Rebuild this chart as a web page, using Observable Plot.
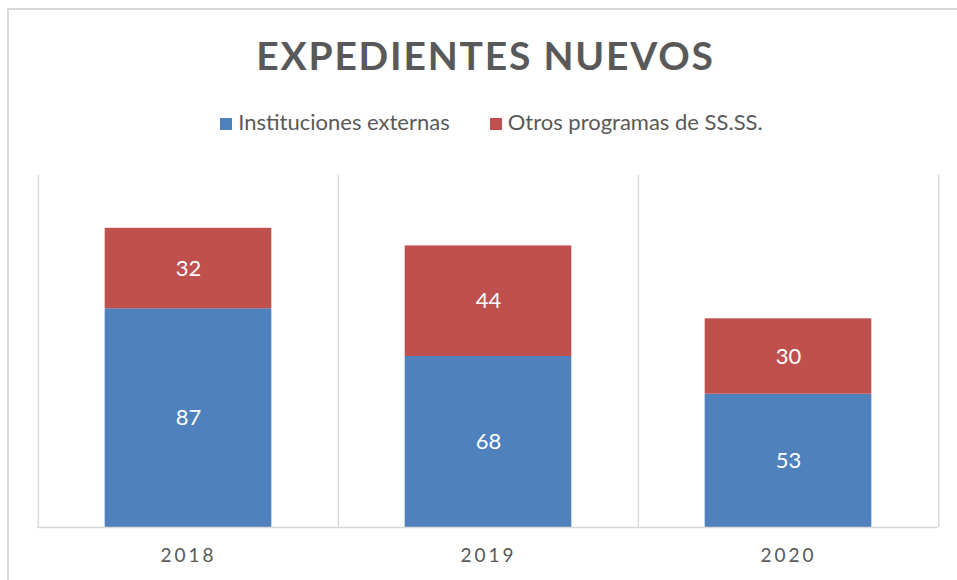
<!DOCTYPE html>
<html>
<head>
<meta charset="utf-8">
<script src="https://cdn.jsdelivr.net/npm/d3@7"></script>
<script src="https://cdn.jsdelivr.net/npm/@observablehq/plot@0.6"></script>
<style>
  html, body { margin: 0; padding: 0; background: #fff; overflow: hidden; }
  body { width: 957px; height: 580px; position: relative; font-family: Lato, "Open Sans", sans-serif; color: #595959; }
  #frame { position: absolute; left: 7px; top: 8px; width: 1000px; height: 1000px; border-left: 2px solid #d9d9d9; border-top: 2px solid #d9d9d9; box-sizing: border-box; }
  #title { position: absolute; left: 35px; width: 901px; top: 30px; text-align: center; font-weight: 700; font-size: 39px; letter-spacing: 1.8px; line-height: 50px; color: #595959; }
  #legend { position: absolute; left: 41px; width: 901px; top: 108px; text-align: center; font-size: 22px; line-height: 28px; color: #595959; white-space: nowrap; }
  #legend .item { display: inline-block; }
  #legend .item + .item { margin-left: 40px; }
  #legend .sw { display: inline-block; width: 12px; height: 12px; margin-right: 6px; vertical-align: 0px; }
  #chart { position: absolute; left: 0; top: 0; }
  #chart svg g[aria-label^="x-axis"] text { letter-spacing: 3px; }
</style>
</head>
<body>
<div id="frame"></div>
<div id="chart"></div>
<div id="title">EXPEDIENTES NUEVOS</div>
<div id="legend"></div>
<script>
const years = ["2018", "2019", "2020"];
const seriesNames = ["Instituciones externas", "Otros programas de SS.SS."];
const seriesColors = ["#4F81BD", "#C0504D"];
const institucionesExternas = [87, 68, 53];
const otrosProgramas = [32, 44, 30];

const data = [];
years.forEach((y, i) => {
  data.push({year: y, series: seriesNames[0], value: institucionesExternas[i]});
  data.push({year: y, series: seriesNames[1], value: otrosProgramas[i]});
});

const W = 957, H = 580, mL = 37, mR = 19, mT = 175, mB = 53;
const bw = (W - mL - mR) / years.length;
const inset = bw * 0.222;

const legend = document.getElementById("legend");
seriesNames.forEach((s, i) => {
  const it = document.createElement("span");
  it.className = "item";
  it.innerHTML = `<span class="sw" style="background:${seriesColors[i]}"></span>${s}`;
  legend.appendChild(it);
});

const plot = Plot.plot({
  width: W, height: H,
  marginLeft: mL, marginRight: mR, marginTop: mT, marginBottom: mB,
  style: {fontFamily: "Lato, 'Open Sans', sans-serif", fontSize: "19px", color: "#595959", background: "transparent"},
  x: {domain: years, padding: 0, label: null, tickSize: 0, tickPadding: 21},
  y: {domain: [0, 140], axis: null},
  color: {domain: seriesNames, range: seriesColors},
  marks: [
    Plot.ruleX(years, {x: d => d, dx: -bw / 2, stroke: "#d9d9d9", strokeWidth: 1.5}),
    Plot.ruleX(years.slice(-1), {x: d => d, dx: bw / 2, stroke: "#d9d9d9", strokeWidth: 1.5}),
    Plot.barY(data, Plot.stackY({x: "year", y: "value", z: "series", fill: "series", insetLeft: inset, insetRight: inset})),
    Plot.ruleY([0], {stroke: "#d9d9d9", strokeWidth: 1.5}),
    Plot.text(data, Plot.stackY({x: "year", y: "value", z: "series", text: "value", fill: "white", fontSize: 22}))
  ]
});
document.getElementById("chart").appendChild(plot);
</script>
</body>
</html>
